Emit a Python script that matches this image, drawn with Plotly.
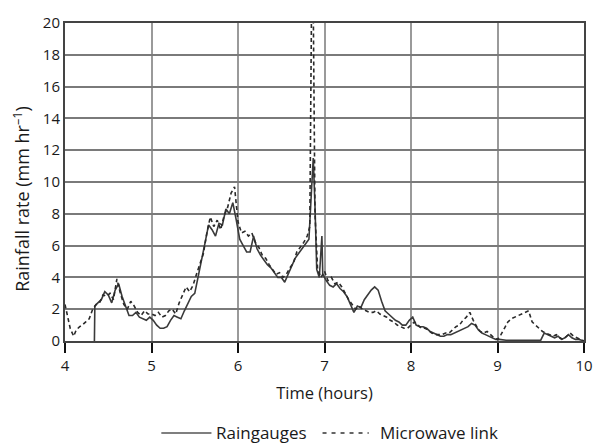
import plotly.graph_objects as go

# Raingauges (solid)
rg_t = [4.34, 4.345, 4.38, 4.42, 4.46, 4.50, 4.54, 4.58, 4.62, 4.66, 4.70, 4.74, 4.78, 4.82, 4.86, 4.90, 4.94, 4.98,
        5.02, 5.06, 5.10, 5.14, 5.18, 5.22, 5.26, 5.30, 5.34, 5.38, 5.42, 5.46, 5.50, 5.54, 5.58, 5.62, 5.66, 5.70,
        5.74, 5.78, 5.82, 5.86, 5.90, 5.94, 5.98, 6.02, 6.06, 6.10, 6.14, 6.18, 6.22, 6.26, 6.30, 6.34, 6.38, 6.42,
        6.46, 6.50, 6.54, 6.58, 6.62, 6.66, 6.70, 6.74, 6.78, 6.82, 6.85, 6.87, 6.89, 6.91, 6.94, 6.97, 6.98, 7.02,
        7.06, 7.10, 7.14, 7.18, 7.22, 7.26, 7.30, 7.34, 7.38, 7.42, 7.46, 7.50, 7.54, 7.58, 7.62, 7.66, 7.70, 7.74,
        7.78, 7.82, 7.86, 7.90, 7.94, 7.98, 8.02, 8.06, 8.10, 8.14, 8.18, 8.22, 8.26, 8.30, 8.34, 8.38, 8.42, 8.46,
        8.50, 8.54, 8.58, 8.62, 8.66, 8.70, 8.74, 8.78, 8.82, 8.86, 8.90, 8.94, 8.98, 9.02, 9.10, 9.20, 9.30, 9.40,
        9.50, 9.54, 9.58, 9.62, 9.66, 9.70, 9.74, 9.78, 9.82, 9.86, 9.90, 9.94, 9.98, 10.0]
rg_v = [0.0, 2.2, 2.4, 2.6, 3.1, 2.9, 2.4, 3.2, 3.6, 2.8, 2.2, 1.6, 1.6, 1.8, 1.5, 1.4, 1.3, 1.5,
        1.3, 1.0, 0.8, 0.8, 0.9, 1.3, 1.6, 1.5, 1.4, 1.9, 2.4, 2.8, 3.0, 4.0, 5.0, 6.2, 7.3, 7.0,
        6.6, 7.4, 7.3, 8.3, 8.0, 8.7, 7.6, 6.4, 6.0, 5.6, 5.6, 6.6, 5.8, 5.4, 5.1, 4.8, 4.6, 4.3,
        4.0, 4.0, 3.7, 4.2, 4.7, 5.2, 5.5, 5.8, 6.1, 6.4, 9.5, 11.5, 8.5, 4.5, 4.0, 6.6, 4.2, 3.8,
        3.5, 3.4, 3.6, 3.3, 3.1, 2.8, 2.3, 1.8, 2.2, 2.1, 2.6, 2.9, 3.2, 3.4, 3.2, 2.5, 1.9, 1.7,
        1.5, 1.3, 1.2, 1.0, 1.0, 1.3, 1.5, 1.0, 0.9, 0.9, 0.8, 0.6, 0.5, 0.4, 0.3, 0.3, 0.4, 0.4,
        0.5, 0.6, 0.7, 0.8, 0.9, 1.1, 1.0, 0.7, 0.5, 0.4, 0.3, 0.2, 0.1, 0.1, 0.05, 0.05, 0.05, 0.05,
        0.05, 0.5, 0.4, 0.3, 0.2, 0.3, 0.1, 0.2, 0.4, 0.2, 0.1, 0.1, 0.0, 0.0]

# Microwave link (dashed)
mw_t = [4.00, 4.03, 4.06, 4.10, 4.13, 4.17, 4.20, 4.24, 4.28, 4.32, 4.36, 4.40, 4.44, 4.48, 4.52, 4.56, 4.60, 4.64,
        4.68, 4.72, 4.76, 4.80, 4.84, 4.88, 4.92, 4.96, 5.00, 5.04, 5.08, 5.12, 5.16, 5.20, 5.24, 5.28, 5.32, 5.36,
        5.40, 5.44, 5.48, 5.52, 5.56, 5.60, 5.64, 5.68, 5.72, 5.76, 5.80, 5.84, 5.88, 5.92, 5.96, 6.00, 6.04, 6.08,
        6.12, 6.16, 6.20, 6.24, 6.28, 6.32, 6.36, 6.40, 6.44, 6.48, 6.52, 6.56, 6.60, 6.64, 6.68, 6.72, 6.76, 6.80,
        6.83, 6.85, 6.87, 6.89, 6.92, 6.96, 7.00, 7.04, 7.08, 7.12, 7.16, 7.20, 7.24, 7.28, 7.32, 7.36, 7.40, 7.44,
        7.48, 7.52, 7.56, 7.60, 7.64, 7.68, 7.72, 7.76, 7.80, 7.84, 7.88, 7.92, 7.96, 8.00, 8.04, 8.08, 8.12, 8.16,
        8.20, 8.24, 8.28, 8.32, 8.36, 8.40, 8.44, 8.48, 8.52, 8.56, 8.60, 8.64, 8.68, 8.72, 8.76, 8.80, 8.84, 8.88,
        8.92, 8.96, 9.00, 9.04, 9.08, 9.12, 9.16, 9.20, 9.24, 9.28, 9.32, 9.36, 9.40, 9.44, 9.48, 9.52, 9.56, 9.60,
        9.64, 9.68, 9.72, 9.76, 9.80, 9.84, 9.88, 9.92, 9.96, 10.0]
mw_v = [2.3, 1.5, 0.8, 0.3, 0.7, 0.9, 1.0, 1.2, 1.4, 2.0, 2.3, 2.4, 2.9, 2.8, 3.0, 2.6, 3.9, 3.0,
        2.3, 2.0, 2.5, 2.2, 1.8, 1.6, 1.9, 1.7, 1.7, 1.6, 1.8, 1.5, 1.6, 1.9, 2.0, 1.7, 2.4, 2.9,
        3.4, 3.1, 3.5, 4.2, 4.9, 5.5, 6.8, 7.8, 7.2, 7.6, 7.0, 7.9, 8.4, 9.3, 9.7, 7.5, 6.8, 6.9,
        6.6, 6.8, 6.2, 5.9, 5.4, 5.2, 4.8, 4.5, 4.2, 4.3, 4.0, 4.2, 4.6, 4.9, 5.6, 5.9, 6.2, 6.6,
        7.2, 21.0, 21.0, 8.0, 4.5, 4.0, 4.4, 3.8, 4.0, 3.6, 3.7, 3.4, 3.0, 2.6, 2.3, 2.0, 2.2, 2.0,
        1.9, 1.8, 1.8, 1.9, 1.7, 1.6, 1.5, 1.3, 1.2, 1.0, 0.9, 0.8, 0.8, 1.0, 1.2, 1.0, 0.8, 0.8,
        0.7, 0.5, 0.4, 0.4, 0.4, 0.5, 0.5, 0.7, 0.9, 1.0, 1.3, 1.5, 1.8, 1.3, 0.9, 0.6, 0.5, 0.6,
        0.4, 0.2, 0.1, 0.4, 0.8, 1.2, 1.4, 1.5, 1.6, 1.7, 1.8, 1.9, 1.2, 1.0, 0.8, 0.6, 0.5, 0.4,
        0.3, 0.4, 0.2, 0.1, 0.3, 0.5, 0.3, 0.2, 0.1, 0.0]

x_ticks = [4, 5, 6, 7, 8, 9, 10]
y_ticks = [0, 2, 4, 6, 8, 10, 12, 14, 16, 18, 20]
series_names = ["Raingauges", "Microwave link"]
x_title = "Time (hours)"
y_title = "Rainfall rate (mm hr<sup>–1</sup>)"

FONT = "Open Sans"
TXT = "#1a1a1a"
W, H = 605, 443
ML, MR, MT, MB = 65, 12, 16, 102
PW, PH = W - ML - MR, H - MT - MB


def px_x(p):
    return (p - ML) / PW


def px_y(p):
    return (H - MB - p) / PH


fig = go.Figure()
fig.add_trace(go.Scatter(x=rg_t, y=rg_v, mode="lines", name=series_names[0],
                         line=dict(color="#3a3a3a", width=1.6)))
fig.add_trace(go.Scatter(x=mw_t, y=mw_v, mode="lines", name=series_names[1],
                         line=dict(color="#2a2a2a", width=1.6, dash="4px,3px")))

# Y-axis title as a rotated annotation (placed like the reference, a bit below centre)
fig.add_annotation(xref="paper", yref="paper", x=px_x(21), y=px_y(196), text=y_title, showarrow=False,
                   textangle=-90, xanchor="center", yanchor="middle",
                   font=dict(size=18, family=FONT, color=TXT))

# Manual legend below the chart
leg_y = px_y(435)
fig.add_shape(type="line", xref="paper", yref="paper", x0=px_x(163), x1=px_x(214), y0=leg_y, y1=leg_y,
              line=dict(color="#555", width=1.3))
fig.add_shape(type="line", xref="paper", yref="paper", x0=px_x(327), x1=px_x(374), y0=leg_y, y1=leg_y,
              line=dict(color="#333", width=1.3, dash="4px,5px"))
fig.add_annotation(xref="paper", yref="paper", x=px_x(217), y=leg_y, text=series_names[0], showarrow=False,
                   xanchor="left", yanchor="middle", font=dict(size=17, family=FONT, color=TXT))
fig.add_annotation(xref="paper", yref="paper", x=px_x(383), y=leg_y, text=series_names[1], showarrow=False,
                   xanchor="left", yanchor="middle", font=dict(size=17, family=FONT, color=TXT))

fig.update_layout(
    width=W, height=H,
    margin=dict(l=ML, r=MR, t=MT, b=MB),
    paper_bgcolor="white", plot_bgcolor="white",
    font=dict(family=FONT, size=15, color=TXT),
    showlegend=False,
    xaxis=dict(range=[4, 10], tickvals=x_ticks, ticks="outside", ticklen=10, tickwidth=2,
               tickcolor="#111", showgrid=True, gridcolor="#9a9a9a", gridwidth=2,
               tickfont=dict(family=FONT, size=15, color=TXT),
               showline=True, linecolor="#444", linewidth=2, mirror=True, zeroline=False,
               title=dict(text=x_title, standoff=13, font=dict(family=FONT, size=16.5, color=TXT)),
               fixedrange=True),
    yaxis=dict(range=[0, 20], tickvals=y_ticks, ticks="", showgrid=True, gridcolor="#7a7a7a",
               tickfont=dict(family=FONT, size=15, color=TXT),
               gridwidth=2, showline=True, linecolor="#444", linewidth=2, mirror=True, zeroline=False,
               fixedrange=True),
)
fig.write_html("out.html")
